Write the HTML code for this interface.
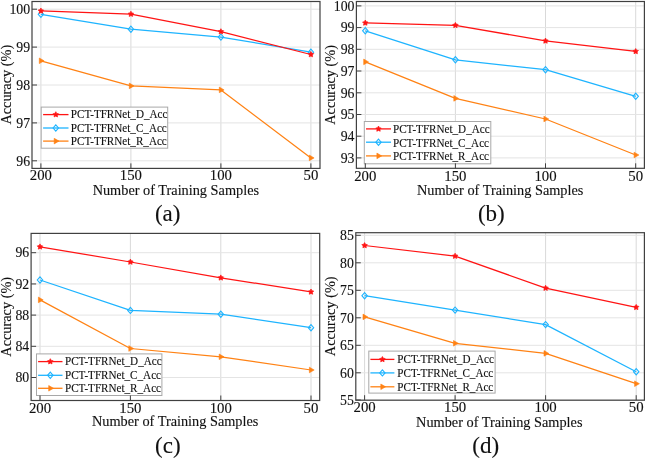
<!DOCTYPE html>
<html><head><meta charset="utf-8"><style>
html,body{margin:0;padding:0;background:#fff;overflow:hidden;}
svg{display:block;will-change:transform;}
text{font-family:'Liberation Serif', serif;fill:#111;stroke:#111;stroke-width:0.12px;}
</style></head><body>
<svg width="646" height="458" viewBox="0 0 646 458">
<rect width="646" height="458" fill="#fff"/>
<line x1="40.90" y1="1.50" x2="40.90" y2="168.40" stroke="#d9d9d9" stroke-width="1"/>
<line x1="130.90" y1="1.50" x2="130.90" y2="168.40" stroke="#d9d9d9" stroke-width="1"/>
<line x1="220.90" y1="1.50" x2="220.90" y2="168.40" stroke="#d9d9d9" stroke-width="1"/>
<line x1="310.90" y1="1.50" x2="310.90" y2="168.40" stroke="#d9d9d9" stroke-width="1"/>
<line x1="32.00" y1="9.20" x2="320.00" y2="9.20" stroke="#e4e4e4" stroke-width="1"/>
<line x1="32.00" y1="47.10" x2="320.00" y2="47.10" stroke="#e4e4e4" stroke-width="1"/>
<line x1="32.00" y1="85.00" x2="320.00" y2="85.00" stroke="#e4e4e4" stroke-width="1"/>
<line x1="32.00" y1="122.90" x2="320.00" y2="122.90" stroke="#e4e4e4" stroke-width="1"/>
<line x1="32.00" y1="160.80" x2="320.00" y2="160.80" stroke="#e4e4e4" stroke-width="1"/>
<polyline points="40.90,60.80 130.90,85.90 220.90,89.90 310.90,157.90" fill="none" stroke="#ff8214" stroke-width="1.25" stroke-linejoin="round"/>
<polyline points="40.90,14.30 130.90,29.20 220.90,37.10 310.90,52.20" fill="none" stroke="#1eb4ff" stroke-width="1.25" stroke-linejoin="round"/>
<polyline points="40.90,10.90 130.90,14.10 220.90,31.60 310.90,54.50" fill="none" stroke="#ff1414" stroke-width="1.25" stroke-linejoin="round"/>
<polygon points="39.30,58.00 44.10,60.80 39.30,63.60" fill="#ff8214" stroke="#ff8214" stroke-width="0.6" stroke-linejoin="round"/>
<polygon points="129.30,83.10 134.10,85.90 129.30,88.70" fill="#ff8214" stroke="#ff8214" stroke-width="0.6" stroke-linejoin="round"/>
<polygon points="219.30,87.10 224.10,89.90 219.30,92.70" fill="#ff8214" stroke="#ff8214" stroke-width="0.6" stroke-linejoin="round"/>
<polygon points="309.30,155.10 314.10,157.90 309.30,160.70" fill="#ff8214" stroke="#ff8214" stroke-width="0.6" stroke-linejoin="round"/>
<polygon points="40.90,11.20 43.60,14.30 40.90,17.40 38.20,14.30" fill="none" stroke="#1eb4ff" stroke-width="1.1"/>
<polygon points="130.90,26.10 133.60,29.20 130.90,32.30 128.20,29.20" fill="none" stroke="#1eb4ff" stroke-width="1.1"/>
<polygon points="220.90,34.00 223.60,37.10 220.90,40.20 218.20,37.10" fill="none" stroke="#1eb4ff" stroke-width="1.1"/>
<polygon points="310.90,49.10 313.60,52.20 310.90,55.30 308.20,52.20" fill="none" stroke="#1eb4ff" stroke-width="1.1"/>
<polygon points="40.90,8.00 41.78,9.69 43.66,10.00 42.33,11.36 42.60,13.25 40.90,12.40 39.20,13.25 39.47,11.36 38.14,10.00 40.02,9.69" fill="#ff1414" stroke="#ff1414" stroke-width="0.7" stroke-linejoin="round"/>
<polygon points="130.90,11.20 131.78,12.89 133.66,13.20 132.33,14.56 132.60,16.45 130.90,15.60 129.20,16.45 129.47,14.56 128.14,13.20 130.02,12.89" fill="#ff1414" stroke="#ff1414" stroke-width="0.7" stroke-linejoin="round"/>
<polygon points="220.90,28.70 221.78,30.39 223.66,30.70 222.33,32.06 222.60,33.95 220.90,33.10 219.20,33.95 219.47,32.06 218.14,30.70 220.02,30.39" fill="#ff1414" stroke="#ff1414" stroke-width="0.7" stroke-linejoin="round"/>
<polygon points="310.90,51.60 311.78,53.29 313.66,53.60 312.33,54.96 312.60,56.85 310.90,56.00 309.20,56.85 309.47,54.96 308.14,53.60 310.02,53.29" fill="#ff1414" stroke="#ff1414" stroke-width="0.7" stroke-linejoin="round"/>
<rect x="41.20" y="107.10" width="126.50" height="41.10" fill="#fff" stroke="#a8a8a8" stroke-width="1"/>
<line x1="43.10" y1="114.60" x2="68.50" y2="114.60" stroke="#ff1414" stroke-width="1.3"/>
<polygon points="55.80,111.70 56.68,113.39 58.56,113.70 57.23,115.06 57.50,116.95 55.80,116.10 54.10,116.95 54.37,115.06 53.04,113.70 54.92,113.39" fill="#ff1414" stroke="#ff1414" stroke-width="0.7" stroke-linejoin="round"/>
<text transform="translate(70.80,118.40) scale(0.96,1)" font-size="11.6" text-anchor="start" >PCT-TFRNet_D_Acc</text>
<line x1="43.10" y1="128.00" x2="68.50" y2="128.00" stroke="#1eb4ff" stroke-width="1.3"/>
<polygon points="55.80,124.90 58.50,128.00 55.80,131.10 53.10,128.00" fill="none" stroke="#1eb4ff" stroke-width="1.1"/>
<text transform="translate(70.80,131.80) scale(0.96,1)" font-size="11.6" text-anchor="start" >PCT-TFRNet_C_Acc</text>
<line x1="43.10" y1="141.10" x2="68.50" y2="141.10" stroke="#ff8214" stroke-width="1.3"/>
<polygon points="54.20,138.30 59.00,141.10 54.20,143.90" fill="#ff8214" stroke="#ff8214" stroke-width="0.6" stroke-linejoin="round"/>
<text transform="translate(70.80,144.90) scale(0.96,1)" font-size="11.6" text-anchor="start" >PCT-TFRNet_R_Acc</text>
<rect x="32.00" y="1.50" width="288.00" height="166.90" fill="none" stroke="#404040" stroke-width="1.2"/>
<line x1="40.90" y1="168.40" x2="40.90" y2="163.40" stroke="#404040" stroke-width="1"/>
<line x1="130.90" y1="168.40" x2="130.90" y2="163.40" stroke="#404040" stroke-width="1"/>
<line x1="220.90" y1="168.40" x2="220.90" y2="163.40" stroke="#404040" stroke-width="1"/>
<line x1="310.90" y1="168.40" x2="310.90" y2="163.40" stroke="#404040" stroke-width="1"/>
<line x1="32.00" y1="9.20" x2="37.00" y2="9.20" stroke="#404040" stroke-width="1"/>
<line x1="32.00" y1="47.10" x2="37.00" y2="47.10" stroke="#404040" stroke-width="1"/>
<line x1="32.00" y1="85.00" x2="37.00" y2="85.00" stroke="#404040" stroke-width="1"/>
<line x1="32.00" y1="122.90" x2="37.00" y2="122.90" stroke="#404040" stroke-width="1"/>
<line x1="32.00" y1="160.80" x2="37.00" y2="160.80" stroke="#404040" stroke-width="1"/>
<text transform="translate(40.90,179.80) scale(1.0,1)" font-size="14.8" text-anchor="middle" >200</text>
<text transform="translate(130.90,179.80) scale(1.0,1)" font-size="14.8" text-anchor="middle" >150</text>
<text transform="translate(220.90,179.80) scale(1.0,1)" font-size="14.8" text-anchor="middle" >100</text>
<text transform="translate(310.90,179.80) scale(1.0,1)" font-size="14.8" text-anchor="middle" >50</text>
<text transform="translate(30.10,13.90) scale(1.0,1)" font-size="13.8" text-anchor="end" >100</text>
<text transform="translate(30.10,51.80) scale(1.0,1)" font-size="13.8" text-anchor="end" >99</text>
<text transform="translate(30.10,89.70) scale(1.0,1)" font-size="13.8" text-anchor="end" >98</text>
<text transform="translate(30.10,127.60) scale(1.0,1)" font-size="13.8" text-anchor="end" >97</text>
<text transform="translate(30.10,165.50) scale(1.0,1)" font-size="13.8" text-anchor="end" >96</text>
<text transform="translate(10.70,84.70) rotate(-90) scale(1.0,1)" font-size="14.3" text-anchor="middle" >Accuracy (%)</text>
<text transform="translate(175.85,194.90) scale(1.0,1)" font-size="14.3" text-anchor="middle" >Number of Training Samples</text>
<text transform="translate(167.65,220.80) scale(1.0,1)" font-size="23" text-anchor="middle" >(a)</text>
<line x1="365.30" y1="1.50" x2="365.30" y2="168.30" stroke="#d9d9d9" stroke-width="1"/>
<line x1="455.40" y1="1.50" x2="455.40" y2="168.30" stroke="#d9d9d9" stroke-width="1"/>
<line x1="545.50" y1="1.50" x2="545.50" y2="168.30" stroke="#d9d9d9" stroke-width="1"/>
<line x1="635.70" y1="1.50" x2="635.70" y2="168.30" stroke="#d9d9d9" stroke-width="1"/>
<line x1="356.40" y1="5.90" x2="644.40" y2="5.90" stroke="#e4e4e4" stroke-width="1"/>
<line x1="356.40" y1="27.60" x2="644.40" y2="27.60" stroke="#e4e4e4" stroke-width="1"/>
<line x1="356.40" y1="49.30" x2="644.40" y2="49.30" stroke="#e4e4e4" stroke-width="1"/>
<line x1="356.40" y1="71.00" x2="644.40" y2="71.00" stroke="#e4e4e4" stroke-width="1"/>
<line x1="356.40" y1="92.80" x2="644.40" y2="92.80" stroke="#e4e4e4" stroke-width="1"/>
<line x1="356.40" y1="114.50" x2="644.40" y2="114.50" stroke="#e4e4e4" stroke-width="1"/>
<line x1="356.40" y1="136.20" x2="644.40" y2="136.20" stroke="#e4e4e4" stroke-width="1"/>
<line x1="356.40" y1="157.90" x2="644.40" y2="157.90" stroke="#e4e4e4" stroke-width="1"/>
<polyline points="365.30,61.90 455.40,98.40 545.50,119.00 635.70,155.00" fill="none" stroke="#ff8214" stroke-width="1.25" stroke-linejoin="round"/>
<polyline points="365.30,30.80 455.40,59.80 545.50,69.70 635.70,96.30" fill="none" stroke="#1eb4ff" stroke-width="1.25" stroke-linejoin="round"/>
<polyline points="365.30,22.90 455.40,25.30 545.50,40.90 635.70,51.40" fill="none" stroke="#ff1414" stroke-width="1.25" stroke-linejoin="round"/>
<polygon points="363.70,59.10 368.50,61.90 363.70,64.70" fill="#ff8214" stroke="#ff8214" stroke-width="0.6" stroke-linejoin="round"/>
<polygon points="453.80,95.60 458.60,98.40 453.80,101.20" fill="#ff8214" stroke="#ff8214" stroke-width="0.6" stroke-linejoin="round"/>
<polygon points="543.90,116.20 548.70,119.00 543.90,121.80" fill="#ff8214" stroke="#ff8214" stroke-width="0.6" stroke-linejoin="round"/>
<polygon points="634.10,152.20 638.90,155.00 634.10,157.80" fill="#ff8214" stroke="#ff8214" stroke-width="0.6" stroke-linejoin="round"/>
<polygon points="365.30,27.70 368.00,30.80 365.30,33.90 362.60,30.80" fill="none" stroke="#1eb4ff" stroke-width="1.1"/>
<polygon points="455.40,56.70 458.10,59.80 455.40,62.90 452.70,59.80" fill="none" stroke="#1eb4ff" stroke-width="1.1"/>
<polygon points="545.50,66.60 548.20,69.70 545.50,72.80 542.80,69.70" fill="none" stroke="#1eb4ff" stroke-width="1.1"/>
<polygon points="635.70,93.20 638.40,96.30 635.70,99.40 633.00,96.30" fill="none" stroke="#1eb4ff" stroke-width="1.1"/>
<polygon points="365.30,20.00 366.18,21.69 368.06,22.00 366.73,23.36 367.00,25.25 365.30,24.40 363.60,25.25 363.87,23.36 362.54,22.00 364.42,21.69" fill="#ff1414" stroke="#ff1414" stroke-width="0.7" stroke-linejoin="round"/>
<polygon points="455.40,22.40 456.28,24.09 458.16,24.40 456.83,25.76 457.10,27.65 455.40,26.80 453.70,27.65 453.97,25.76 452.64,24.40 454.52,24.09" fill="#ff1414" stroke="#ff1414" stroke-width="0.7" stroke-linejoin="round"/>
<polygon points="545.50,38.00 546.38,39.69 548.26,40.00 546.93,41.36 547.20,43.25 545.50,42.40 543.80,43.25 544.07,41.36 542.74,40.00 544.62,39.69" fill="#ff1414" stroke="#ff1414" stroke-width="0.7" stroke-linejoin="round"/>
<polygon points="635.70,48.50 636.58,50.19 638.46,50.50 637.13,51.86 637.40,53.75 635.70,52.90 634.00,53.75 634.27,51.86 632.94,50.50 634.82,50.19" fill="#ff1414" stroke="#ff1414" stroke-width="0.7" stroke-linejoin="round"/>
<rect x="364.30" y="121.50" width="126.50" height="42.30" fill="#fff" stroke="#a8a8a8" stroke-width="1"/>
<line x1="366.00" y1="128.90" x2="391.00" y2="128.90" stroke="#ff1414" stroke-width="1.3"/>
<polygon points="378.50,126.00 379.38,127.69 381.26,128.00 379.93,129.36 380.20,131.25 378.50,130.40 376.80,131.25 377.07,129.36 375.74,128.00 377.62,127.69" fill="#ff1414" stroke="#ff1414" stroke-width="0.7" stroke-linejoin="round"/>
<text transform="translate(393.00,133.20) scale(0.96,1)" font-size="11.6" text-anchor="start" >PCT-TFRNet_D_Acc</text>
<line x1="366.00" y1="142.20" x2="391.00" y2="142.20" stroke="#1eb4ff" stroke-width="1.3"/>
<polygon points="378.50,139.10 381.20,142.20 378.50,145.30 375.80,142.20" fill="none" stroke="#1eb4ff" stroke-width="1.1"/>
<text transform="translate(393.00,146.50) scale(0.96,1)" font-size="11.6" text-anchor="start" >PCT-TFRNet_C_Acc</text>
<line x1="366.00" y1="155.90" x2="391.00" y2="155.90" stroke="#ff8214" stroke-width="1.3"/>
<polygon points="376.90,153.10 381.70,155.90 376.90,158.70" fill="#ff8214" stroke="#ff8214" stroke-width="0.6" stroke-linejoin="round"/>
<text transform="translate(393.00,160.20) scale(0.96,1)" font-size="11.6" text-anchor="start" >PCT-TFRNet_R_Acc</text>
<rect x="356.40" y="1.50" width="288.00" height="166.80" fill="none" stroke="#404040" stroke-width="1.2"/>
<line x1="365.30" y1="168.30" x2="365.30" y2="163.30" stroke="#404040" stroke-width="1"/>
<line x1="455.40" y1="168.30" x2="455.40" y2="163.30" stroke="#404040" stroke-width="1"/>
<line x1="545.50" y1="168.30" x2="545.50" y2="163.30" stroke="#404040" stroke-width="1"/>
<line x1="635.70" y1="168.30" x2="635.70" y2="163.30" stroke="#404040" stroke-width="1"/>
<line x1="356.40" y1="5.90" x2="361.40" y2="5.90" stroke="#404040" stroke-width="1"/>
<line x1="356.40" y1="27.60" x2="361.40" y2="27.60" stroke="#404040" stroke-width="1"/>
<line x1="356.40" y1="49.30" x2="361.40" y2="49.30" stroke="#404040" stroke-width="1"/>
<line x1="356.40" y1="71.00" x2="361.40" y2="71.00" stroke="#404040" stroke-width="1"/>
<line x1="356.40" y1="92.80" x2="361.40" y2="92.80" stroke="#404040" stroke-width="1"/>
<line x1="356.40" y1="114.50" x2="361.40" y2="114.50" stroke="#404040" stroke-width="1"/>
<line x1="356.40" y1="136.20" x2="361.40" y2="136.20" stroke="#404040" stroke-width="1"/>
<line x1="356.40" y1="157.90" x2="361.40" y2="157.90" stroke="#404040" stroke-width="1"/>
<text transform="translate(365.30,181.20) scale(1.0,1)" font-size="14.8" text-anchor="middle" >200</text>
<text transform="translate(455.40,181.20) scale(1.0,1)" font-size="14.8" text-anchor="middle" >150</text>
<text transform="translate(545.50,181.20) scale(1.0,1)" font-size="14.8" text-anchor="middle" >100</text>
<text transform="translate(635.70,181.20) scale(1.0,1)" font-size="14.8" text-anchor="middle" >50</text>
<text transform="translate(354.50,10.60) scale(1.0,1)" font-size="13.8" text-anchor="end" >100</text>
<text transform="translate(354.50,32.30) scale(1.0,1)" font-size="13.8" text-anchor="end" >99</text>
<text transform="translate(354.50,54.00) scale(1.0,1)" font-size="13.8" text-anchor="end" >98</text>
<text transform="translate(354.50,75.70) scale(1.0,1)" font-size="13.8" text-anchor="end" >97</text>
<text transform="translate(354.50,97.50) scale(1.0,1)" font-size="13.8" text-anchor="end" >96</text>
<text transform="translate(354.50,119.20) scale(1.0,1)" font-size="13.8" text-anchor="end" >95</text>
<text transform="translate(354.50,140.90) scale(1.0,1)" font-size="13.8" text-anchor="end" >94</text>
<text transform="translate(354.50,162.60) scale(1.0,1)" font-size="13.8" text-anchor="end" >93</text>
<text transform="translate(335.30,84.90) rotate(-90) scale(1.0,1)" font-size="14.3" text-anchor="middle" >Accuracy (%)</text>
<text transform="translate(500.20,195.20) scale(1.0,1)" font-size="14.3" text-anchor="middle" >Number of Training Samples</text>
<text transform="translate(491.30,220.80) scale(1.0,1)" font-size="23" text-anchor="middle" >(b)</text>
<line x1="40.00" y1="233.40" x2="40.00" y2="400.50" stroke="#d9d9d9" stroke-width="1"/>
<line x1="130.40" y1="233.40" x2="130.40" y2="400.50" stroke="#d9d9d9" stroke-width="1"/>
<line x1="220.80" y1="233.40" x2="220.80" y2="400.50" stroke="#d9d9d9" stroke-width="1"/>
<line x1="311.00" y1="233.40" x2="311.00" y2="400.50" stroke="#d9d9d9" stroke-width="1"/>
<line x1="31.10" y1="252.70" x2="319.70" y2="252.70" stroke="#e4e4e4" stroke-width="1"/>
<line x1="31.10" y1="283.95" x2="319.70" y2="283.95" stroke="#e4e4e4" stroke-width="1"/>
<line x1="31.10" y1="315.10" x2="319.70" y2="315.10" stroke="#e4e4e4" stroke-width="1"/>
<line x1="31.10" y1="346.30" x2="319.70" y2="346.30" stroke="#e4e4e4" stroke-width="1"/>
<line x1="31.10" y1="377.50" x2="319.70" y2="377.50" stroke="#e4e4e4" stroke-width="1"/>
<polyline points="40.00,299.90 130.40,348.50 220.80,356.80 311.00,370.00" fill="none" stroke="#ff8214" stroke-width="1.25" stroke-linejoin="round"/>
<polyline points="40.00,280.00 130.40,310.40 220.80,314.20 311.00,327.70" fill="none" stroke="#1eb4ff" stroke-width="1.25" stroke-linejoin="round"/>
<polyline points="40.00,246.80 130.40,262.00 220.80,277.80 311.00,291.90" fill="none" stroke="#ff1414" stroke-width="1.25" stroke-linejoin="round"/>
<polygon points="38.40,297.10 43.20,299.90 38.40,302.70" fill="#ff8214" stroke="#ff8214" stroke-width="0.6" stroke-linejoin="round"/>
<polygon points="128.80,345.70 133.60,348.50 128.80,351.30" fill="#ff8214" stroke="#ff8214" stroke-width="0.6" stroke-linejoin="round"/>
<polygon points="219.20,354.00 224.00,356.80 219.20,359.60" fill="#ff8214" stroke="#ff8214" stroke-width="0.6" stroke-linejoin="round"/>
<polygon points="309.40,367.20 314.20,370.00 309.40,372.80" fill="#ff8214" stroke="#ff8214" stroke-width="0.6" stroke-linejoin="round"/>
<polygon points="40.00,276.90 42.70,280.00 40.00,283.10 37.30,280.00" fill="none" stroke="#1eb4ff" stroke-width="1.1"/>
<polygon points="130.40,307.30 133.10,310.40 130.40,313.50 127.70,310.40" fill="none" stroke="#1eb4ff" stroke-width="1.1"/>
<polygon points="220.80,311.10 223.50,314.20 220.80,317.30 218.10,314.20" fill="none" stroke="#1eb4ff" stroke-width="1.1"/>
<polygon points="311.00,324.60 313.70,327.70 311.00,330.80 308.30,327.70" fill="none" stroke="#1eb4ff" stroke-width="1.1"/>
<polygon points="40.00,243.90 40.88,245.59 42.76,245.90 41.43,247.26 41.70,249.15 40.00,248.30 38.30,249.15 38.57,247.26 37.24,245.90 39.12,245.59" fill="#ff1414" stroke="#ff1414" stroke-width="0.7" stroke-linejoin="round"/>
<polygon points="130.40,259.10 131.28,260.79 133.16,261.10 131.83,262.46 132.10,264.35 130.40,263.50 128.70,264.35 128.97,262.46 127.64,261.10 129.52,260.79" fill="#ff1414" stroke="#ff1414" stroke-width="0.7" stroke-linejoin="round"/>
<polygon points="220.80,274.90 221.68,276.59 223.56,276.90 222.23,278.26 222.50,280.15 220.80,279.30 219.10,280.15 219.37,278.26 218.04,276.90 219.92,276.59" fill="#ff1414" stroke="#ff1414" stroke-width="0.7" stroke-linejoin="round"/>
<polygon points="311.00,289.00 311.88,290.69 313.76,291.00 312.43,292.36 312.70,294.25 311.00,293.40 309.30,294.25 309.57,292.36 308.24,291.00 310.12,290.69" fill="#ff1414" stroke="#ff1414" stroke-width="0.7" stroke-linejoin="round"/>
<rect x="36.50" y="353.90" width="125.40" height="41.60" fill="#fff" stroke="#a8a8a8" stroke-width="1"/>
<line x1="38.10" y1="361.60" x2="62.50" y2="361.60" stroke="#ff1414" stroke-width="1.3"/>
<polygon points="50.30,358.70 51.18,360.39 53.06,360.70 51.73,362.06 52.00,363.95 50.30,363.10 48.60,363.95 48.87,362.06 47.54,360.70 49.42,360.39" fill="#ff1414" stroke="#ff1414" stroke-width="0.7" stroke-linejoin="round"/>
<text transform="translate(65.00,365.40) scale(0.96,1)" font-size="11.6" text-anchor="start" >PCT-TFRNet_D_Acc</text>
<line x1="38.10" y1="375.30" x2="62.50" y2="375.30" stroke="#1eb4ff" stroke-width="1.3"/>
<polygon points="50.30,372.20 53.00,375.30 50.30,378.40 47.60,375.30" fill="none" stroke="#1eb4ff" stroke-width="1.1"/>
<text transform="translate(65.00,379.10) scale(0.96,1)" font-size="11.6" text-anchor="start" >PCT-TFRNet_C_Acc</text>
<line x1="38.10" y1="388.30" x2="62.50" y2="388.30" stroke="#ff8214" stroke-width="1.3"/>
<polygon points="48.70,385.50 53.50,388.30 48.70,391.10" fill="#ff8214" stroke="#ff8214" stroke-width="0.6" stroke-linejoin="round"/>
<text transform="translate(65.00,392.10) scale(0.96,1)" font-size="11.6" text-anchor="start" >PCT-TFRNet_R_Acc</text>
<rect x="31.10" y="233.40" width="288.60" height="167.10" fill="none" stroke="#404040" stroke-width="1.2"/>
<line x1="40.00" y1="400.50" x2="40.00" y2="395.50" stroke="#404040" stroke-width="1"/>
<line x1="130.40" y1="400.50" x2="130.40" y2="395.50" stroke="#404040" stroke-width="1"/>
<line x1="220.80" y1="400.50" x2="220.80" y2="395.50" stroke="#404040" stroke-width="1"/>
<line x1="311.00" y1="400.50" x2="311.00" y2="395.50" stroke="#404040" stroke-width="1"/>
<line x1="31.10" y1="252.70" x2="36.10" y2="252.70" stroke="#404040" stroke-width="1"/>
<line x1="31.10" y1="283.95" x2="36.10" y2="283.95" stroke="#404040" stroke-width="1"/>
<line x1="31.10" y1="315.10" x2="36.10" y2="315.10" stroke="#404040" stroke-width="1"/>
<line x1="31.10" y1="346.30" x2="36.10" y2="346.30" stroke="#404040" stroke-width="1"/>
<line x1="31.10" y1="377.50" x2="36.10" y2="377.50" stroke="#404040" stroke-width="1"/>
<text transform="translate(40.00,412.60) scale(1.0,1)" font-size="14.8" text-anchor="middle" >200</text>
<text transform="translate(130.40,412.60) scale(1.0,1)" font-size="14.8" text-anchor="middle" >150</text>
<text transform="translate(220.80,412.60) scale(1.0,1)" font-size="14.8" text-anchor="middle" >100</text>
<text transform="translate(311.00,412.60) scale(1.0,1)" font-size="14.8" text-anchor="middle" >50</text>
<text transform="translate(29.20,257.40) scale(1.0,1)" font-size="13.8" text-anchor="end" >96</text>
<text transform="translate(29.20,288.65) scale(1.0,1)" font-size="13.8" text-anchor="end" >92</text>
<text transform="translate(29.20,319.80) scale(1.0,1)" font-size="13.8" text-anchor="end" >88</text>
<text transform="translate(29.20,351.00) scale(1.0,1)" font-size="13.8" text-anchor="end" >84</text>
<text transform="translate(29.20,382.20) scale(1.0,1)" font-size="13.8" text-anchor="end" >80</text>
<text transform="translate(10.70,316.80) rotate(-90) scale(1.0,1)" font-size="14.3" text-anchor="middle" >Accuracy (%)</text>
<text transform="translate(175.20,426.40) scale(1.0,1)" font-size="14.3" text-anchor="middle" >Number of Training Samples</text>
<text transform="translate(167.80,453.10) scale(1.0,1)" font-size="23" text-anchor="middle" >(c)</text>
<line x1="364.60" y1="232.70" x2="364.60" y2="400.20" stroke="#d9d9d9" stroke-width="1"/>
<line x1="455.10" y1="232.70" x2="455.10" y2="400.20" stroke="#d9d9d9" stroke-width="1"/>
<line x1="545.60" y1="232.70" x2="545.60" y2="400.20" stroke="#d9d9d9" stroke-width="1"/>
<line x1="636.20" y1="232.70" x2="636.20" y2="400.20" stroke="#d9d9d9" stroke-width="1"/>
<line x1="355.80" y1="235.30" x2="644.40" y2="235.30" stroke="#e4e4e4" stroke-width="1"/>
<line x1="355.80" y1="262.80" x2="644.40" y2="262.80" stroke="#e4e4e4" stroke-width="1"/>
<line x1="355.80" y1="290.30" x2="644.40" y2="290.30" stroke="#e4e4e4" stroke-width="1"/>
<line x1="355.80" y1="317.80" x2="644.40" y2="317.80" stroke="#e4e4e4" stroke-width="1"/>
<line x1="355.80" y1="345.30" x2="644.40" y2="345.30" stroke="#e4e4e4" stroke-width="1"/>
<line x1="355.80" y1="372.80" x2="644.40" y2="372.80" stroke="#e4e4e4" stroke-width="1"/>
<line x1="355.80" y1="400.00" x2="644.40" y2="400.00" stroke="#e4e4e4" stroke-width="1"/>
<polyline points="364.60,316.90 455.10,343.30 545.60,353.40 636.20,383.70" fill="none" stroke="#ff8214" stroke-width="1.25" stroke-linejoin="round"/>
<polyline points="364.60,295.70 455.10,310.10 545.60,324.60 636.20,371.70" fill="none" stroke="#1eb4ff" stroke-width="1.25" stroke-linejoin="round"/>
<polyline points="364.60,245.50 455.10,256.10 545.60,288.10 636.20,307.30" fill="none" stroke="#ff1414" stroke-width="1.25" stroke-linejoin="round"/>
<polygon points="363.00,314.10 367.80,316.90 363.00,319.70" fill="#ff8214" stroke="#ff8214" stroke-width="0.6" stroke-linejoin="round"/>
<polygon points="453.50,340.50 458.30,343.30 453.50,346.10" fill="#ff8214" stroke="#ff8214" stroke-width="0.6" stroke-linejoin="round"/>
<polygon points="544.00,350.60 548.80,353.40 544.00,356.20" fill="#ff8214" stroke="#ff8214" stroke-width="0.6" stroke-linejoin="round"/>
<polygon points="634.60,380.90 639.40,383.70 634.60,386.50" fill="#ff8214" stroke="#ff8214" stroke-width="0.6" stroke-linejoin="round"/>
<polygon points="364.60,292.60 367.30,295.70 364.60,298.80 361.90,295.70" fill="none" stroke="#1eb4ff" stroke-width="1.1"/>
<polygon points="455.10,307.00 457.80,310.10 455.10,313.20 452.40,310.10" fill="none" stroke="#1eb4ff" stroke-width="1.1"/>
<polygon points="545.60,321.50 548.30,324.60 545.60,327.70 542.90,324.60" fill="none" stroke="#1eb4ff" stroke-width="1.1"/>
<polygon points="636.20,368.60 638.90,371.70 636.20,374.80 633.50,371.70" fill="none" stroke="#1eb4ff" stroke-width="1.1"/>
<polygon points="364.60,242.60 365.48,244.29 367.36,244.60 366.03,245.96 366.30,247.85 364.60,247.00 362.90,247.85 363.17,245.96 361.84,244.60 363.72,244.29" fill="#ff1414" stroke="#ff1414" stroke-width="0.7" stroke-linejoin="round"/>
<polygon points="455.10,253.20 455.98,254.89 457.86,255.20 456.53,256.56 456.80,258.45 455.10,257.60 453.40,258.45 453.67,256.56 452.34,255.20 454.22,254.89" fill="#ff1414" stroke="#ff1414" stroke-width="0.7" stroke-linejoin="round"/>
<polygon points="545.60,285.20 546.48,286.89 548.36,287.20 547.03,288.56 547.30,290.45 545.60,289.60 543.90,290.45 544.17,288.56 542.84,287.20 544.72,286.89" fill="#ff1414" stroke="#ff1414" stroke-width="0.7" stroke-linejoin="round"/>
<polygon points="636.20,304.40 637.08,306.09 638.96,306.40 637.63,307.76 637.90,309.65 636.20,308.80 634.50,309.65 634.77,307.76 633.44,306.40 635.32,306.09" fill="#ff1414" stroke="#ff1414" stroke-width="0.7" stroke-linejoin="round"/>
<rect x="368.80" y="351.10" width="126.30" height="42.00" fill="#fff" stroke="#a8a8a8" stroke-width="1"/>
<line x1="370.40" y1="359.40" x2="394.40" y2="359.40" stroke="#ff1414" stroke-width="1.3"/>
<polygon points="382.40,356.50 383.28,358.19 385.16,358.50 383.83,359.86 384.10,361.75 382.40,360.90 380.70,361.75 380.97,359.86 379.64,358.50 381.52,358.19" fill="#ff1414" stroke="#ff1414" stroke-width="0.7" stroke-linejoin="round"/>
<text transform="translate(397.30,363.20) scale(0.96,1)" font-size="11.6" text-anchor="start" >PCT-TFRNet_D_Acc</text>
<line x1="370.40" y1="372.90" x2="394.40" y2="372.90" stroke="#1eb4ff" stroke-width="1.3"/>
<polygon points="382.40,369.80 385.10,372.90 382.40,376.00 379.70,372.90" fill="none" stroke="#1eb4ff" stroke-width="1.1"/>
<text transform="translate(397.30,376.70) scale(0.96,1)" font-size="11.6" text-anchor="start" >PCT-TFRNet_C_Acc</text>
<line x1="370.40" y1="386.80" x2="394.40" y2="386.80" stroke="#ff8214" stroke-width="1.3"/>
<polygon points="380.80,384.00 385.60,386.80 380.80,389.60" fill="#ff8214" stroke="#ff8214" stroke-width="0.6" stroke-linejoin="round"/>
<text transform="translate(397.30,390.60) scale(0.96,1)" font-size="11.6" text-anchor="start" >PCT-TFRNet_R_Acc</text>
<rect x="355.80" y="232.70" width="288.60" height="167.50" fill="none" stroke="#404040" stroke-width="1.2"/>
<line x1="364.60" y1="400.20" x2="364.60" y2="395.20" stroke="#404040" stroke-width="1"/>
<line x1="455.10" y1="400.20" x2="455.10" y2="395.20" stroke="#404040" stroke-width="1"/>
<line x1="545.60" y1="400.20" x2="545.60" y2="395.20" stroke="#404040" stroke-width="1"/>
<line x1="636.20" y1="400.20" x2="636.20" y2="395.20" stroke="#404040" stroke-width="1"/>
<line x1="355.80" y1="235.30" x2="360.80" y2="235.30" stroke="#404040" stroke-width="1"/>
<line x1="355.80" y1="262.80" x2="360.80" y2="262.80" stroke="#404040" stroke-width="1"/>
<line x1="355.80" y1="290.30" x2="360.80" y2="290.30" stroke="#404040" stroke-width="1"/>
<line x1="355.80" y1="317.80" x2="360.80" y2="317.80" stroke="#404040" stroke-width="1"/>
<line x1="355.80" y1="345.30" x2="360.80" y2="345.30" stroke="#404040" stroke-width="1"/>
<line x1="355.80" y1="372.80" x2="360.80" y2="372.80" stroke="#404040" stroke-width="1"/>
<line x1="355.80" y1="400.00" x2="360.80" y2="400.00" stroke="#404040" stroke-width="1"/>
<text transform="translate(364.60,412.10) scale(1.0,1)" font-size="14.8" text-anchor="middle" >200</text>
<text transform="translate(455.10,412.10) scale(1.0,1)" font-size="14.8" text-anchor="middle" >150</text>
<text transform="translate(545.60,412.10) scale(1.0,1)" font-size="14.8" text-anchor="middle" >100</text>
<text transform="translate(636.20,412.10) scale(1.0,1)" font-size="14.8" text-anchor="middle" >50</text>
<text transform="translate(353.90,240.00) scale(1.0,1)" font-size="13.8" text-anchor="end" >85</text>
<text transform="translate(353.90,267.50) scale(1.0,1)" font-size="13.8" text-anchor="end" >80</text>
<text transform="translate(353.90,295.00) scale(1.0,1)" font-size="13.8" text-anchor="end" >75</text>
<text transform="translate(353.90,322.50) scale(1.0,1)" font-size="13.8" text-anchor="end" >70</text>
<text transform="translate(353.90,350.00) scale(1.0,1)" font-size="13.8" text-anchor="end" >65</text>
<text transform="translate(353.90,377.50) scale(1.0,1)" font-size="13.8" text-anchor="end" >60</text>
<text transform="translate(353.90,404.70) scale(1.0,1)" font-size="13.8" text-anchor="end" >55</text>
<text transform="translate(335.30,316.30) rotate(-90) scale(1.0,1)" font-size="14.3" text-anchor="middle" >Accuracy (%)</text>
<text transform="translate(499.30,426.60) scale(1.0,1)" font-size="14.3" text-anchor="middle" >Number of Training Samples</text>
<text transform="translate(485.70,453.10) scale(1.0,1)" font-size="23" text-anchor="middle" >(d)</text>
</svg>
</body></html>
